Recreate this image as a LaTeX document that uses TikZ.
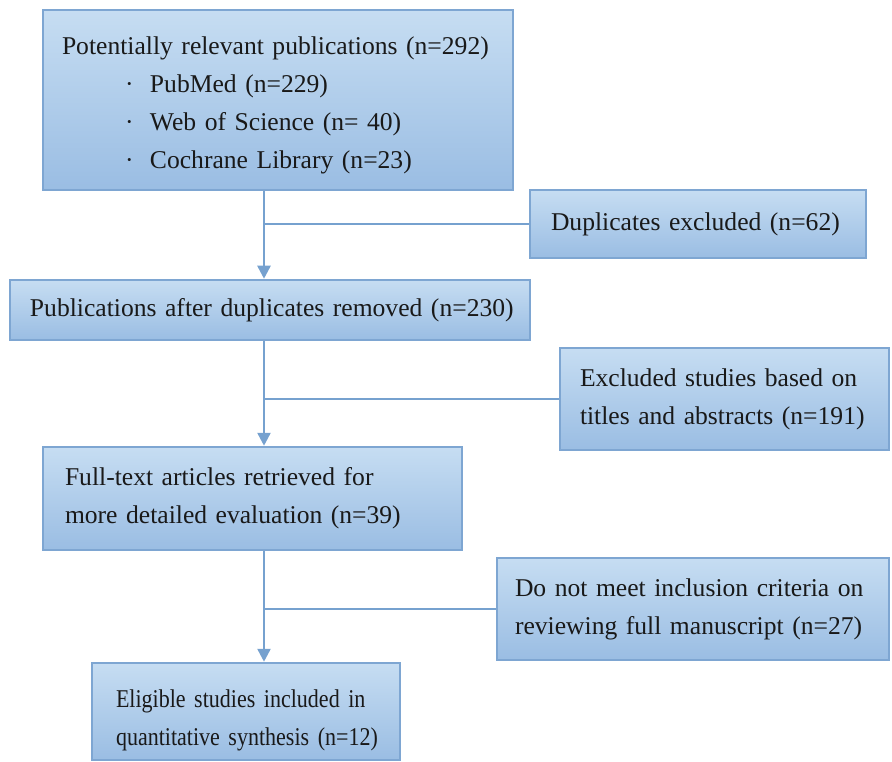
\documentclass[tikz,border=0pt]{standalone}
\usepackage{fontspec}
\setmainfont{Liberation Serif}
\newfontfamily\narrowserif[FakeStretch=0.86]{Liberation Serif}
\usetikzlibrary{arrows.meta}
\definecolor{boxtop}{HTML}{C6DDF2}
\definecolor{boxbot}{HTML}{9ABDE3}
\definecolor{boxline}{HTML}{7EA6D2}
\definecolor{arrowc}{HTML}{76A1CF}
\begin{document}
\begin{tikzpicture}[x=1pt,y=-1pt,
  box/.style={draw=boxline, line width=2.5pt, top color=boxtop, bottom color=boxbot,
    align=left, inner ysep=0pt, font=\fontsize{25.6}{38}\selectfont, text=black!90},
  conn/.style={draw=arrowc, line width=2.5pt},
  arr/.style={conn, -{Triangle[length=13pt,width=13pt]}}]
\useasboundingbox (0,0) rectangle (892,762);
\node[box, inner xsep=19pt, text width=432pt, minimum height=180pt] (b1) at (278,100)
  {\mbox{\rule{0pt}{29pt}Potentially relevant publications (n=292)}\\
   \mbox{\hspace*{63pt}\makebox[25pt][l]{·}PubMed (n=229)}\\
   \mbox{\hspace*{63pt}\makebox[25pt][l]{·}Web of Science (n= 40)}\\
   \mbox{\hspace*{63pt}\makebox[25pt][l]{·}Cochrane Library (n=23)}};
\node[box, inner xsep=21pt, text width=294pt, minimum height=68pt] (b2) at (698,224)
  {\mbox{Duplicates excluded (n=62)}};
\node[box, inner xsep=20pt, text width=480pt, minimum height=60pt] (b3) at (270,310)
  {\mbox{Publications after duplicates removed (n=230)}};
\node[box, inner xsep=20pt, text width=289pt, minimum height=102pt] (b4) at (724.5,399)
  {\mbox{Excluded studies based on}\\\mbox{titles and abstracts (n=191)}};
\node[box, inner xsep=22pt, text width=375pt, minimum height=103pt] (b5) at (252.5,498.5)
  {\makebox[372pt][s]{Full-text articles retrieved for}\\
   \makebox[372pt][s]{more detailed evaluation (n=39)}};
\node[box, inner xsep=18pt, text width=356pt, minimum height=102pt] (b6) at (693,609)
  {\mbox{Do not meet inclusion criteria on}\\\mbox{reviewing full manuscript (n=27)}};
\node[box, inner xsep=24pt, text width=260pt, minimum height=97pt, font=\narrowserif\fontsize{25.6}{38}\selectfont] (b7) at (246,711.5)
  {\mbox{\rule{0pt}{36pt}Eligible studies included in}\\\mbox{quantitative synthesis (n=12)}};
\coordinate (v) at (264,0);
\draw[arr] (b1.south -| v) -- (b3.north -| v);
\draw[conn] (b2.west) -- (b2.west -| v);
\draw[arr] (b3.south -| v) -- (b5.north -| v);
\draw[conn] (b4.west) -- (b4.west -| v);
\draw[arr] (b5.south -| v) -- (b7.north -| v);
\draw[conn] (b6.west) -- (b6.west -| v);
\end{tikzpicture}
\end{document}
